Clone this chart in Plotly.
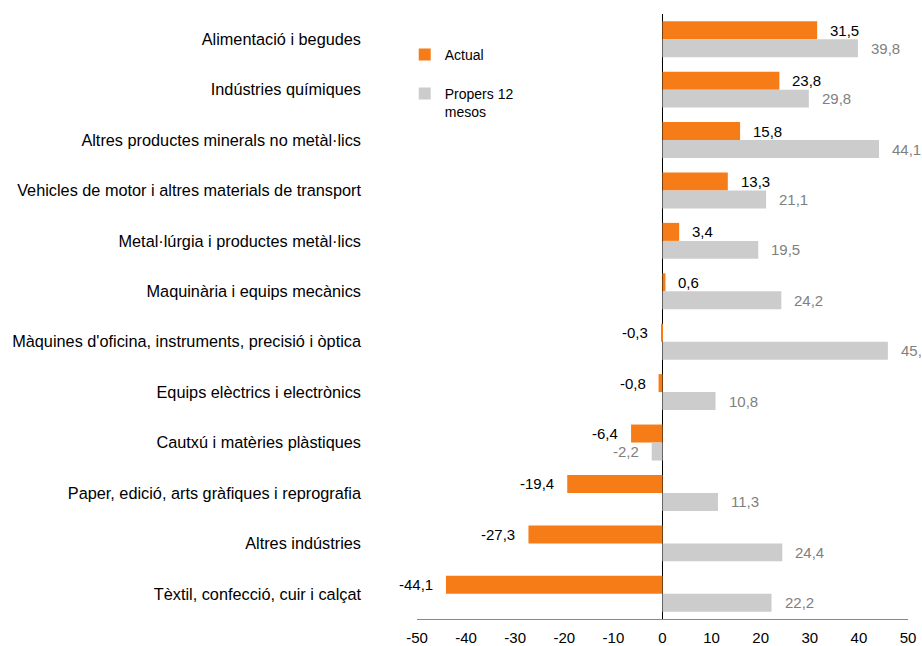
import plotly.graph_objects as go

categories = [
    "Alimentació i begudes",
    "Indústries químiques",
    "Altres productes minerals no metàl·lics",
    "Vehicles de motor i altres materials de transport",
    "Metal·lúrgia i productes metàl·lics",
    "Maquinària i equips mecànics",
    "Màquines d'oficina, instruments, precisió i òptica",
    "Equips elèctrics i electrònics",
    "Cautxú i matèries plàstiques",
    "Paper, edició, arts gràfiques i reprografia",
    "Altres indústries",
    "Tèxtil, confecció, cuir i calçat",
]
actual = [31.5, 23.8, 15.8, 13.3, 3.4, 0.6, -0.3, -0.8, -6.4, -19.4, -27.3, -44.1]
propers = [39.8, 29.8, 44.1, 21.1, 19.5, 24.2, 45.9, 10.8, -2.2, 11.3, 24.4, 22.2]
x_ticks = [-50, -40, -30, -20, -10, 0, 10, 20, 30, 40, 50]

ORANGE = "#F57C17"
GRAY = "#CCCCCC"
FONT = "Liberation Sans, Arial, sans-serif"

fig = go.Figure()
fig.add_trace(go.Bar(y=categories, x=actual, orientation="h", name="Actual",
                     marker=dict(color=ORANGE, line=dict(width=0)),
                     legendgroup="a"))
fig.add_trace(go.Bar(y=categories, x=propers, orientation="h", name="Propers 12<br>mesos",
                     marker=dict(color=GRAY, line=dict(width=0)),
                     legendgroup="b"))

def fmt(v):
    return f"{v:.1f}".replace(".", ",")

annotations = []
for cat, v in zip(categories, actual):
    annotations.append(dict(x=v, y=cat, text=fmt(v), showarrow=False,
                            xanchor="left" if v >= 0 else "right",
                            xshift=11 if v >= 0 else -11, yshift=9,
                            font=dict(family=FONT, size=15, color="#000000")))
for cat, v in zip(categories, propers):
    annotations.append(dict(x=v, y=cat, text=fmt(v), showarrow=False,
                            xanchor="left" if v >= 0 else "right",
                            xshift=11 if v >= 0 else -11, yshift=-9,
                            font=dict(family=FONT, size=15, color="#7F7F7F")))

fig.update_layout(
    width=922, height=646,
    margin=dict(l=417, r=14, t=14, b=27, autoexpand=False),
    paper_bgcolor="white", plot_bgcolor="white",
    barmode="group", bargap=0.286, bargroupgap=0,
    font=dict(family=FONT, size=14, color="#000000"),
    annotations=annotations,
    showlegend=True,
    legend=dict(x=-0.025, y=0.959, xanchor="left", yanchor="top",
                traceorder="grouped", tracegroupgap=18, valign="top",
                itemwidth=30, bgcolor="rgba(0,0,0,0)",
                font=dict(family=FONT, size=14, color="#000000")),
)
fig.update_xaxes(range=[-50, 50], tickvals=x_ticks, ticktext=[str(t) for t in x_ticks],
                 showgrid=False, zeroline=True, zerolinecolor="#000000", zerolinewidth=1,
                 showline=True, linecolor="#888888", linewidth=1, ticks="",
                 automargin=False, ticklabelstandoff=5,
                 tickfont=dict(family=FONT, size=15, color="#000000"), fixedrange=True)
fig.update_yaxes(autorange="reversed", showgrid=False, showline=False, ticks="",
                 ticklabelstandoff=55, automargin=False, fixedrange=True,
                 tickfont=dict(family=FONT, size=16.3, color="#000000"))

fig.write_html(
    "out.html",
    config={"displayModeBar": False},
    post_script="document.body.style.margin='0';document.body.style.overflow='hidden';",
)
